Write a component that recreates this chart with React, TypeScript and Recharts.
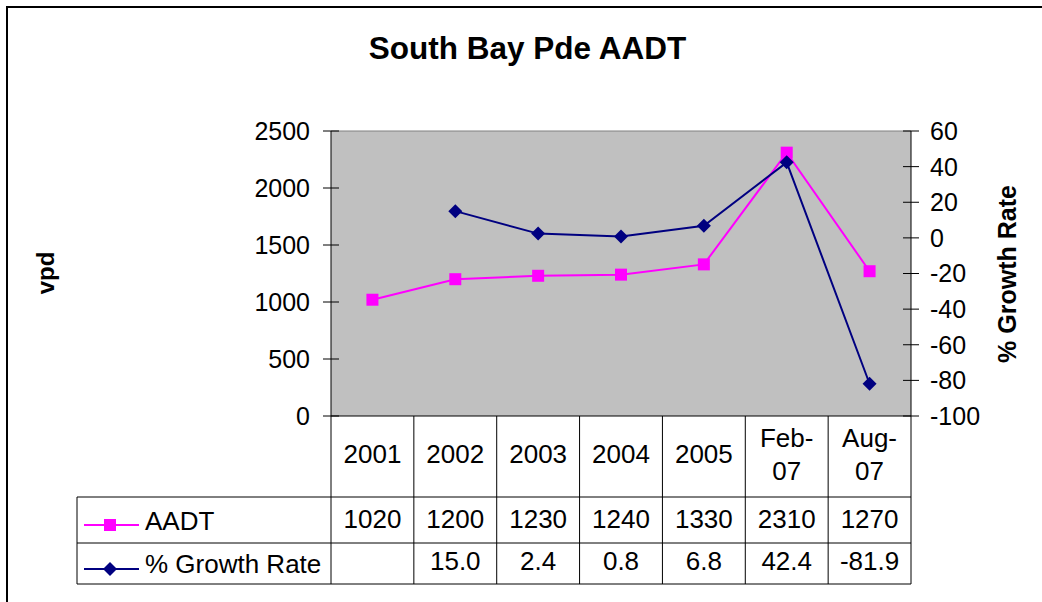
import React from 'react';
import { LineChart, Line, XAxis, YAxis, CartesianGrid } from 'recharts';

const categories = ['2001', '2002', '2003', '2004', '2005', 'Feb-07', 'Aug-07'];
const aadtValues = [1020, 1200, 1230, 1240, 1330, 2310, 1270];
const growthValues: (number | null)[] = [null, 15.0, 2.4, 0.8, 6.8, 42.4, -81.9];
const leftTicks = [0, 500, 1000, 1500, 2000, 2500];
const rightTicks = [-100, -80, -60, -40, -20, 0, 20, 40, 60];
const seriesNames = ['AADT', '% Growth Rate'];
const chartTitle = 'South Bay Pde AADT';
const leftAxisTitle = 'vpd';
const rightAxisTitle = '% Growth Rate';

const data = categories.map((c, i) => ({ cat: c, aadt: aadtValues[i], growth: growthValues[i] }));

const W = 1042;
const H = 602;
const PLOT_L = 331;
const PLOT_R = 911;
const PLOT_T = 131;
const PLOT_B = 416;
const BAND = (PLOT_R - PLOT_L) / categories.length;
const FONT = '"Liberation Sans", Arial, Helvetica, sans-serif';
const PINK = '#FF00FF';
const NAVY = '#000080';
const FS = 25;
const TFS = 26;
const TABLE_LEFT = 77;

const SquareDot = (p: any) => {
  const { cx, cy, index } = p;
  if (cx == null || cy == null || isNaN(cy)) return <g key={`sq${index}`} />;
  return <rect key={`sq${index}`} x={cx - 6} y={cy - 6} width={12} height={12} fill={PINK} />;
};

const DiamondDot = (p: any) => {
  const { cx, cy, index } = p;
  if (cx == null || cy == null || isNaN(cy)) return <g key={`dm${index}`} />;
  return (
    <polygon
      key={`dm${index}`}
      points={`${cx},${cy - 7} ${cx + 7},${cy} ${cx},${cy + 7} ${cx - 7},${cy}`}
      fill={NAVY}
    />
  );
};

const LeftTick = (props: any) => {
  const { x, y, payload } = props;
  return (
    <g>
      <line x1={x + 13} x2={x + 29} y1={y} y2={y} stroke="#000" strokeWidth={1} />
      <text x={x} y={y} dy="0.355em" textAnchor="end" fontFamily={FONT} fontSize={FS} fill="#000">
        {payload.value}
      </text>
    </g>
  );
};

const RightTick = (props: any) => {
  const { x, y, payload } = props;
  return (
    <g>
      <line x1={x - 27} x2={x - 11} y1={y} y2={y} stroke="#000" strokeWidth={1} />
      <text x={x} y={y} dy="0.355em" textAnchor="start" fontFamily={FONT} fontSize={FS} fill="#000">
        {payload.value}
      </text>
    </g>
  );
};

const XTick = (props: any) => {
  const { x, y, index } = props;
  const cat = categories[index];
  const left = x - BAND / 2;
  const right = x + BAND / 2;
  const dash = cat.indexOf('-');
  const parts = dash > 0 ? [cat.slice(0, dash + 1), cat.slice(dash + 1)] : [cat];
  const row1 = y + 81;
  const row2 = y + 127;
  const rowEnd = y + 168;
  const g = growthValues[index];
  const tableRight = left + BAND * (categories.length - index);
  const textProps = { fontFamily: FONT, fontSize: TFS, fill: '#000' } as any;
  return (
    <g>
      {index === 0 && (
        <g>
          <line x1={TABLE_LEFT} x2={tableRight} y1={row1} y2={row1} stroke="#000" />
          <line x1={TABLE_LEFT} x2={tableRight} y1={row2} y2={row2} stroke="#000" />
          <line x1={TABLE_LEFT} x2={tableRight} y1={rowEnd} y2={rowEnd} stroke="#000" />
          <line x1={TABLE_LEFT} x2={TABLE_LEFT} y1={row1} y2={rowEnd} stroke="#000" />
          <line x1={84} x2={139} y1={y + 109} y2={y + 109} stroke={PINK} strokeWidth={2} />
          <rect x={104} y={y + 103} width={12} height={12} fill={PINK} />
          <text x={145} y={y + 114} {...textProps}>{seriesNames[0]}</text>
          <line x1={84} x2={139} y1={y + 153} y2={y + 153} stroke={NAVY} strokeWidth={2} />
          <polygon
            points={`110,${y + 146} 117,${y + 153} 110,${y + 160} 103,${y + 153}`}
            fill={NAVY}
          />
          <text x={145} y={y + 157} {...textProps}>{seriesNames[1]}</text>
        </g>
      )}
      <line x1={left} x2={left} y1={y} y2={rowEnd} stroke="#000" />
      {index === categories.length - 1 && (
        <line x1={right} x2={right} y1={y} y2={rowEnd} stroke="#000" />
      )}
      {parts.length === 1 ? (
        <text x={x} y={y + 47} textAnchor="middle" {...textProps}>{parts[0]}</text>
      ) : (
        <g>
          <text x={x} y={y + 31} textAnchor="middle" {...textProps}>{parts[0]}</text>
          <text x={x} y={y + 64} textAnchor="middle" {...textProps}>{parts[1]}</text>
        </g>
      )}
      <text x={x} y={y + 112} textAnchor="middle" {...textProps}>{String(aadtValues[index])}</text>
      {g != null && (
        <text x={x} y={y + 154} textAnchor="middle" {...textProps}>{g.toFixed(1)}</text>
      )}
    </g>
  );
};

export default function App() {
  const LW = 60;
  const RW = 60;
  const XH = 180;
  return (
    <div
      style={{
        position: 'absolute',
        left: 0,
        top: 0,
        width: W,
        height: H,
        overflow: 'hidden',
        background: '#fff',
      }}
    >
      <div
        style={{
          position: 'absolute',
          left: 6,
          top: 6,
          width: 2000,
          height: 2000,
          borderLeft: '2px solid #000',
          borderTop: '2px solid #000',
        }}
      />
      <div style={{ position: 'absolute', left: 0, top: 0 }}>
        <LineChart
          width={W}
          height={H}
          data={data}
          margin={{ top: PLOT_T, left: PLOT_L - LW, right: W - PLOT_R - RW, bottom: H - PLOT_B - XH }}
        >
          <CartesianGrid
            yAxisId="left"
            fill="#C0C0C0"
            fillOpacity={1}
            vertical={false}
            horizontalValues={[2500]}
            stroke="#808080"
            strokeDasharray=""
          />
          <XAxis
            dataKey="cat"
            height={XH}
            interval={0}
            tickLine={false}
            tickSize={0}
            tickMargin={0}
            padding={{ left: BAND / 2, right: BAND / 2 }}
            axisLine={{ stroke: '#000', strokeWidth: 1 }}
            tick={<XTick />}
          />
          <YAxis
            yAxisId="left"
            orientation="left"
            width={LW}
            domain={[0, 2500]}
            ticks={leftTicks}
            interval={0}
            tickLine={false}
            tickSize={8}
            tickMargin={13}
            axisLine={{ stroke: '#000', strokeWidth: 1 }}
            tick={<LeftTick />}
          />
          <YAxis
            yAxisId="right"
            orientation="right"
            width={RW}
            domain={[-100, 60]}
            ticks={rightTicks}
            interval={0}
            tickLine={false}
            tickSize={8}
            tickMargin={11}
            axisLine={{ stroke: '#000', strokeWidth: 1 }}
            tick={<RightTick />}
          />
          <Line
            yAxisId="left"
            dataKey="aadt"
            stroke={PINK}
            strokeWidth={2}
            dot={SquareDot}
            activeDot={false}
            isAnimationActive={false}
          />
          <Line
            yAxisId="right"
            dataKey="growth"
            stroke={NAVY}
            strokeWidth={2}
            dot={DiamondDot}
            activeDot={false}
            isAnimationActive={false}
          />
        </LineChart>
      </div>
      <svg
        width={W}
        height={H}
        style={{ position: 'absolute', left: 0, top: 0, pointerEvents: 'none' }}
      >
        <text
          x={527.5}
          y={59}
          textAnchor="middle"
          fontFamily={FONT}
          fontWeight="bold"
          fontSize={31.5}
          fill="#000"
        >
          {chartTitle}
        </text>
        <text
          transform="translate(54,273) rotate(-90)"
          textAnchor="middle"
          fontFamily={FONT}
          fontWeight="bold"
          fontSize={24}
          fill="#000"
        >
          {leftAxisTitle}
        </text>
        <text
          transform="translate(1016,274) rotate(-90)"
          textAnchor="middle"
          fontFamily={FONT}
          fontWeight="bold"
          fontSize={25}
          fill="#000"
        >
          {rightAxisTitle}
        </text>
      </svg>
    </div>
  );
}
